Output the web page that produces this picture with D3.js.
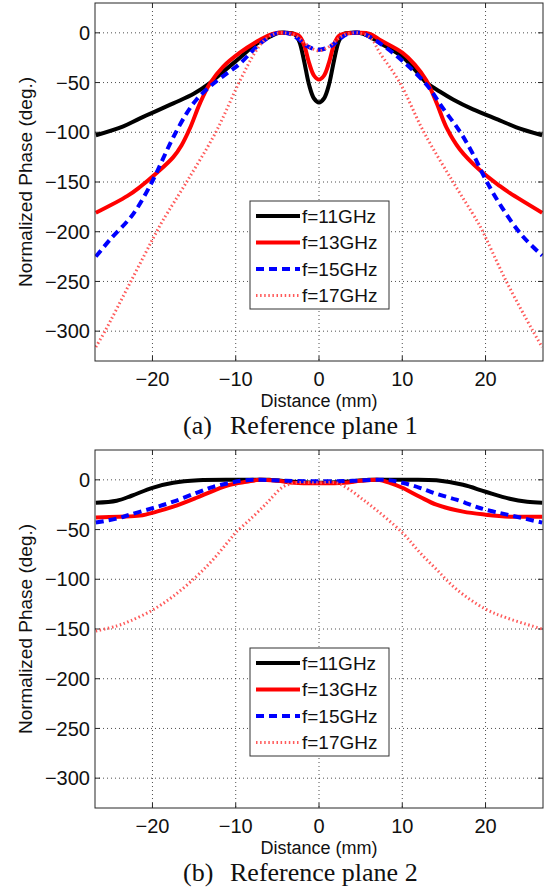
<!DOCTYPE html>
<html>
<head>
<meta charset="utf-8" />
<title>Normalized Phase vs Distance</title>
<style>
  body { margin: 0; background: #fff; }
  text { font-family: "Liberation Sans", Arial, sans-serif; fill: #111; }
  .cap { font-family: "Liberation Serif", "Times New Roman", serif; }
</style>
</head>
<body>
<script src="https://d3js.org/d3.v7.min.js"></script>
<script>

// ---- data: [distance mm, normalized phase deg] ----
var seriesNames = ["f=11GHz", "f=13GHz", "f=15GHz", "f=17GHz"];
var xTicks = [-20, -10, 0, 10, 20];
var yTicks = [0, -50, -100, -150, -200, -250, -300];
var captions = [["(a)", "Reference plane 1"], ["(b)", "Reference plane 2"]];

// reference plane 1
var p1_f11 = [[-26.8,-103],[-23.5,-94],[-21.5,-86],[-17.5,-71],[-15,-61],[-13.2,-51],[-11.5,-39],[-9.5,-25],[-7.5,-11],[-5.9,-4],[-4.8,0],[-3.8,0],[-3,-1],[-2.4,-8],[-1.8,-28],[-1.2,-52],[-0.6,-66],[0,-70],[0.6,-66],[1.2,-52],[1.8,-28],[2.4,-8],[3,-1],[3.8,0],[4.8,0],[5.9,-3],[7.5,-11],[10,-24],[11.5,-37],[12.9,-50],[14.5,-59],[16.1,-67],[18.5,-77],[21.7,-88],[23.7,-95],[26.8,-103]];
var p1_f13 = [[-26.8,-181],[-23,-164],[-21.5,-155],[-19.5,-141],[-17.5,-125],[-16.5,-113],[-15.5,-96],[-14.3,-71],[-13.1,-51],[-11.5,-34],[-9.5,-20],[-7.5,-9],[-5.9,-2],[-4.8,0],[-3.5,-0.5],[-2.4,-3],[-1.8,-12],[-1.2,-30],[-0.6,-43],[0,-47],[0.6,-43],[1.2,-30],[1.8,-12],[2.4,-3],[3.5,-0.5],[4.8,0],[6.1,-1],[7.5,-8],[10,-20],[11.5,-32],[12.9,-48],[14.1,-70],[15.3,-95],[16.9,-117],[19.3,-138],[21.7,-154],[22.9,-161],[26.8,-181]];
var p1_f15 = [[-26.8,-225],[-25.1,-208],[-22.3,-182],[-20,-149],[-18.7,-126],[-17.5,-105],[-15.9,-81],[-14.7,-67],[-13.1,-54],[-11.1,-41],[-9.5,-31],[-7.5,-14],[-6.3,-6],[-5,0],[-3.5,-1],[-2.5,-6],[-1.5,-13],[0,-17],[1.5,-13],[2.5,-6],[3.5,-1],[5,0],[6.3,-5],[7.9,-14],[10,-28],[12.9,-52],[14.9,-76],[16.9,-99],[18.5,-122],[20.1,-149],[22,-176],[24.4,-204],[26.8,-224]];
var p1_f17 = [[-26.8,-316],[-25.7,-300],[-22.6,-250],[-19.5,-200],[-18.7,-188],[-15.9,-150],[-12.4,-100],[-9.6,-50],[-7.7,-20],[-6.5,-7],[-5.3,-1],[-4.3,0],[-3,-2],[-2,-8],[-1,-15],[0,-18],[1,-15],[2,-8],[3,-2],[4.3,0],[5.3,-1],[6.3,-6],[7.3,-20],[9.7,-50],[12.6,-100],[16.1,-150],[18.9,-188],[19.5,-197],[22.5,-250],[25.7,-300],[26.8,-316]];

// reference plane 2
var p2_f11 = [[-26.8,-23],[-24.3,-21],[-22.5,-16],[-20,-8],[-17.5,-3],[-14.5,-0.5],[-10,0],[-6,0],[-3,-2],[0,-3],[3,-2],[6,0],[10,0],[14.1,-0.5],[17.3,-5],[20,-12],[22.9,-19],[25,-22],[26.8,-23]];
var p2_f13 = [[-26.8,-38],[-24,-37],[-21.5,-36],[-19.5,-32],[-17.5,-27],[-14.7,-18],[-12.7,-11],[-10.7,-5],[-8.7,-2],[-7.2,0],[-5,-1],[-3,-3],[0,-3.5],[3,-3],[5,-1],[7,0],[8.5,-3],[10,-8],[12.1,-17],[14.1,-25],[17.3,-32],[20,-35],[22.9,-37],[26.8,-37]];
var p2_f15 = [[-26.8,-43],[-24.3,-39],[-22.7,-35],[-20,-28.5],[-17.5,-22],[-14.7,-13],[-12.7,-7],[-10.7,-3],[-9,-0.5],[-7,0],[-4,-1],[0,-1.5],[4,-1],[8,0],[10,-3],[12.1,-8],[14.1,-14],[16.5,-20],[18.5,-26],[20,-30],[22.6,-35],[26.8,-43]];
var p2_f17 = [[-26.8,-152],[-24.3,-147],[-22.7,-142],[-20,-131],[-17.5,-117],[-14.7,-97],[-12.7,-80],[-10.7,-60],[-10,-53],[-8.3,-40],[-6.7,-27],[-5.9,-20],[-4.3,-7],[-2.7,-3],[0,-3],[2.1,-3],[3.7,-10],[5.3,-20],[6.1,-25],[10,-53],[12.1,-73],[14.1,-90],[16.5,-110],[20,-130],[22.6,-139],[26.8,-150]];

var plane1 = [p1_f11, p1_f13, p1_f15, p1_f17];
var plane2 = [p2_f11, p2_f13, p2_f15, p2_f17];

// ---- styling ----
var styles = [
  {color: "#000", width: 4, dash: null},
  {color: "#ff0000", width: 4, dash: null},
  {color: "#0000ff", width: 4, dash: "8,5"},
  {color: "#ff5a5a", width: 3, dash: "1.5,2.6"}
];

var width = 551, height = 892;
var left = 95, right = 543;
var panels = [
  {top: 3, bottom: 361, data: plane1, cap: captions[0]},
  {top: 450, bottom: 808, data: plane2, cap: captions[1]}
];

var svg = d3.select("body").append("svg")
  .attr("width", width)
  .attr("height", height);

var x = d3.scaleLinear().domain([-26.9, 26.9]).range([left, right]);

panels.forEach(function(p, k) {
  var y = d3.scaleLinear().domain([-330, 30]).range([p.bottom, p.top]);
  var g = svg.append("g");

  g.append("clipPath").attr("id", "clip" + k)
    .append("rect")
    .attr("x", left).attr("y", p.top)
    .attr("width", right - left).attr("height", p.bottom - p.top);

  // dotted grid
  g.selectAll(".gx").data(xTicks).enter().append("line")
    .attr("x1", d => x(d)).attr("x2", d => x(d))
    .attr("y1", p.top).attr("y2", p.bottom)
    .attr("stroke", "#222").attr("stroke-width", 0.8)
    .attr("stroke-dasharray", "1,3");
  g.selectAll(".gy").data(yTicks).enter().append("line")
    .attr("x1", left).attr("x2", right)
    .attr("y1", d => y(d)).attr("y2", d => y(d))
    .attr("stroke", "#222").attr("stroke-width", 0.8)
    .attr("stroke-dasharray", "1,3");

  // inward ticks
  var tl = 5;
  xTicks.forEach(function(t) {
    g.append("line").attr("x1", x(t)).attr("x2", x(t)).attr("y1", p.bottom).attr("y2", p.bottom - tl).attr("stroke", "#262626");
    g.append("line").attr("x1", x(t)).attr("x2", x(t)).attr("y1", p.top).attr("y2", p.top + tl).attr("stroke", "#262626");
  });
  yTicks.forEach(function(t) {
    g.append("line").attr("x1", left).attr("x2", left + tl).attr("y1", y(t)).attr("y2", y(t)).attr("stroke", "#262626");
    g.append("line").attr("x1", right).attr("x2", right - tl).attr("y1", y(t)).attr("y2", y(t)).attr("stroke", "#262626");
  });

  // curves
  var line = d3.line()
    .x(d => x(d[0]))
    .y(d => y(d[1]))
    .curve(d3.curveCatmullRom.alpha(0.5));

  g.append("g").attr("clip-path", "url(#clip" + k + ")")
    .selectAll("path").data(p.data).enter().append("path")
    .attr("d", line)
    .attr("fill", "none")
    .attr("stroke", (d, i) => styles[i].color)
    .attr("stroke-width", (d, i) => styles[i].width)
    .attr("stroke-dasharray", (d, i) => styles[i].dash)
    .attr("stroke-linejoin", "round");

  // frame
  g.append("rect")
    .attr("x", left).attr("y", p.top)
    .attr("width", right - left).attr("height", p.bottom - p.top)
    .attr("fill", "none").attr("stroke", "#262626").attr("stroke-width", 1);

  // tick labels
  var fmt = d3.format("d");
  g.selectAll(".xl").data(xTicks).enter().append("text")
    .attr("x", d => x(d)).attr("y", p.bottom + 25)
    .attr("text-anchor", "middle").style("font-size", "20px")
    .text(d => fmt(d));
  g.selectAll(".yl").data(yTicks).enter().append("text")
    .attr("x", left - 5).attr("y", d => y(d)).attr("dy", "0.36em")
    .attr("text-anchor", "end").style("font-size", "20px")
    .text(d => fmt(d));

  // axis titles
  g.append("text")
    .attr("x", (left + right) / 2).attr("y", p.bottom + 46)
    .attr("text-anchor", "middle").style("font-size", "18px")
    .text("Distance (mm)");
  g.append("text")
    .attr("transform", "translate(32," + ((p.top + p.bottom) / 2) + ") rotate(-90)")
    .attr("text-anchor", "middle").style("font-size", "19px")
    .text("Normalized Phase (deg.)");

  // legend
  var lg = g.append("g").attr("transform", "translate(250," + (p.top + 198) + ")");
  lg.append("rect").attr("width", 139).attr("height", 108)
    .attr("fill", "#fff").attr("stroke", "#333").attr("stroke-width", 1);
  seriesNames.forEach(function(name, i) {
    var cy = 15 + i * 26.5;
    lg.append("line")
      .attr("x1", 6).attr("x2", 50).attr("y1", cy).attr("y2", cy)
      .attr("stroke", styles[i].color)
      .attr("stroke-width", styles[i].width)
      .attr("stroke-dasharray", styles[i].dash);
    lg.append("text")
      .attr("x", 52).attr("y", cy).attr("dy", "0.36em")
      .style("font-size", "19px")
      .text(name);
  });

  // caption
  var cap = g.append("text").attr("class", "cap")
    .attr("y", p.bottom + 73).style("font-size", "26px");
  cap.append("tspan").attr("x", 183).text(p.cap[0]);
  cap.append("tspan").attr("x", 230).text(p.cap[1]);
});

</script>
</body>
</html>
